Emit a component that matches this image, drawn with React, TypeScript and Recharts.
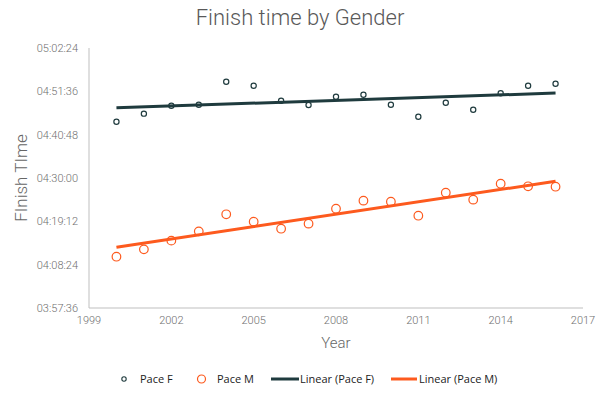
import React from 'react';
import { ComposedChart, Scatter, XAxis, YAxis, Legend } from 'recharts';

const years = [2000, 2001, 2002, 2003, 2004, 2005, 2006, 2007, 2008, 2009, 2010, 2011, 2012, 2013, 2014, 2015, 2016];
// finish times in seconds
const paceF = [17042, 17162, 17281, 17296, 17640, 17580, 17356, 17292, 17416, 17446, 17296, 17117, 17326, 17221, 17467, 17580, 17610];
const paceM = [15023, 15133, 15263, 15402, 15657, 15547, 15442, 15517, 15741, 15861, 15846, 15636, 15980, 15876, 16115, 16076, 16070];
const xTicks = [1999, 2002, 2005, 2008, 2011, 2014, 2017];
const yTicks = [14256, 14904, 15552, 16200, 16848, 17496, 18144];

const COLOR_F = '#1f3b3e';
const COLOR_M = '#fd5a1e';

function fit(xs: number[], ys: number[]) {
  const n = xs.length;
  const mx = xs.reduce((a, b) => a + b, 0) / n;
  const my = ys.reduce((a, b) => a + b, 0) / n;
  let sxy = 0, sxx = 0;
  for (let i = 0; i < n; i++) { sxy += (xs[i] - mx) * (ys[i] - my); sxx += (xs[i] - mx) ** 2; }
  const b = sxy / sxx;
  const a = my - b * mx;
  const x0 = xs[0], x1 = xs[n - 1];
  return [{ x: x0, y: a + b * x0 }, { x: x1, y: a + b * x1 }];
}

const dataF = years.map((x, i) => ({ x, y: paceF[i] }));
const dataM = years.map((x, i) => ({ x, y: paceM[i] }));
const trendF = fit(years, paceF);
const trendM = fit(years, paceM);

const fmt = (s: number) => {
  const h = Math.floor(s / 3600);
  const m = Math.floor((s % 3600) / 60);
  const sec = Math.round(s % 60);
  const p = (v: number) => String(v).padStart(2, '0');
  return `${p(h)}:${p(m)}:${p(sec)}`;
};

const tickStyle = { fontFamily: 'Roboto', fontWeight: 300, fontSize: 11, fill: '#6f6f6f' };

const SmallCircle = (props: any) => (
  <circle cx={props.cx} cy={props.cy} r={2.6} fill="#fff" stroke={COLOR_F} strokeWidth={1.2} />
);
const BigCircle = (props: any) => (
  <circle cx={props.cx} cy={props.cy} r={4.3} fill="#fff" stroke={COLOR_M} strokeWidth={1.2} />
);
const NoShape = () => <g />;

const renderLegend = () => {
  const text: React.CSSProperties = { fontFamily: '"Open Sans", sans-serif', fontSize: 11, color: '#222' };
  return (
    <div style={{ position: 'relative', width: 600, height: 20 }}>
      <svg width={600} height={20} style={{ position: 'absolute', left: 0, top: 0 }}>
        <circle cx={124} cy={10} r={2.2} fill="#fff" stroke={COLOR_F} strokeWidth={1.1} />
        <circle cx={201.5} cy={10} r={4} fill="#fff" stroke={COLOR_M} strokeWidth={1.2} />
        <line x1={271} y1={10} x2={299} y2={10} stroke={COLOR_F} strokeWidth={3} />
        <line x1={391} y1={10} x2={417} y2={10} stroke={COLOR_M} strokeWidth={3} />
      </svg>
      <span style={{ ...text, position: 'absolute', left: 140, top: 2 }}>Pace F</span>
      <span style={{ ...text, position: 'absolute', left: 217, top: 2 }}>Pace M</span>
      <span style={{ ...text, position: 'absolute', left: 300, top: 2 }}>Linear (Pace F)</span>
      <span style={{ ...text, position: 'absolute', left: 419, top: 2 }}>Linear (Pace M)</span>
    </div>
  );
};

export default function App() {
  return (
    <div style={{ position: 'absolute', left: 0, top: 0, width: 600, height: 395, background: '#fff' }}>
      <div style={{ position: 'absolute', left: 0, top: 5, width: 600, textAlign: 'center', fontFamily: 'Roboto', fontWeight: 300, fontSize: 22, color: '#595959' }}>
        Finish time by Gender
      </div>
      <ComposedChart width={600} height={395} margin={{ top: 48, right: 17, bottom: 27, left: 0 }}>
        <XAxis
          type="number"
          dataKey="x"
          domain={[1999, 2017]}
          ticks={xTicks}
          allowDataOverflow
          stroke="#bfbfbf"
          tickLine={false}
          tick={tickStyle}
          height={40}
          label={{ value: 'Year', position: 'insideBottom', offset: 0, style: { fontFamily: 'Roboto', fontWeight: 300, fontSize: 15, fill: '#666' } }}
        />
        <YAxis
          type="number"
          dataKey="y"
          domain={[14256, 18144]}
          ticks={yTicks}
          allowDataOverflow
          width={89}
          stroke="#bfbfbf"
          tickLine={false}
          tickMargin={5}
          tick={tickStyle}
          tickFormatter={fmt}
          label={{ value: 'FInish TIme', angle: -90, position: 'insideLeft', offset: 21, style: { textAnchor: 'middle', fontFamily: 'Roboto', fontWeight: 300, fontSize: 17, fill: '#666' } }}
        />
        <Scatter data={dataF} shape={SmallCircle} isAnimationActive={false} />
        <Scatter data={dataM} shape={BigCircle} isAnimationActive={false} />
        <Scatter data={trendF} shape={NoShape} line={{ stroke: COLOR_F, strokeWidth: 3 }} isAnimationActive={false} />
        <Scatter data={trendM} shape={NoShape} line={{ stroke: COLOR_M, strokeWidth: 3 }} isAnimationActive={false} />
        <Legend content={renderLegend} wrapperStyle={{ position: 'absolute', left: 0, top: 369, width: 600 }} />
      </ComposedChart>
    </div>
  );
}
